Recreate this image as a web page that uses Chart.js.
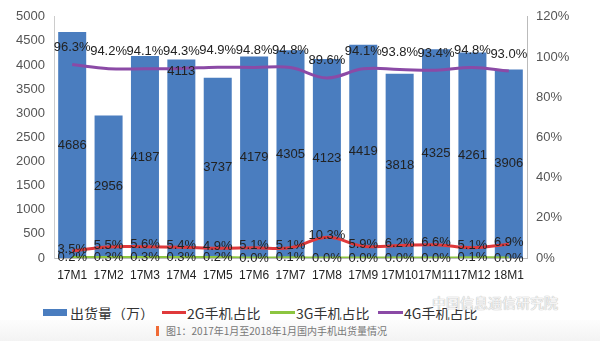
<!DOCTYPE html>
<html>
<head>
<meta charset="utf-8">
<script src="https://cdn.jsdelivr.net/npm/chart.js@4/dist/chart.umd.min.js"></script>
<style>
  body { margin: 0; width: 600px; height: 341px; background: #fff; position: relative; overflow: hidden;
         font-family: "Noto Sans CJK SC", "Liberation Sans", sans-serif; }
  #wrap { position: absolute; left: 0; top: 0; width: 600px; height: 290px; }
  .lg { position: absolute; top: 303px; font-size: 14px; color: #333; line-height: 20px; white-space: nowrap; }
  .sw { position: absolute; }
  #band { position: absolute; left: 0; top: 320px; width: 600px; height: 21px; background: linear-gradient(#fdfdfd, #f3f3f3); }
  #cap { position: absolute; left: 166px; top: 324px; font-size: 10px; color: #777; line-height: 14px; }
  #capbar { position: absolute; left: 156px; top: 326px; width: 3px; height: 10px; background: #f06a35; }
  #wm { position: absolute; left: 432px; top: 293px; font-size: 14px; color: #f4f4f4; line-height: 18px;
        text-shadow: 0 0 1px #bbb, 0 0 1px #bbb; white-space: nowrap; }
</style>
</head>
<body>
<div id="wrap"><canvas id="c" width="600" height="290"></canvas></div>
<div class="sw" style="left:43px;top:309px;width:24px;height:7px;background:#4a7dbf"></div>
<div class="lg" style="left:70px">出货量（万）</div>
<div class="sw" style="left:162px;top:311px;width:24px;height:3px;background:#e0393b"></div>
<div class="lg" style="left:187px">2G手机占比</div>
<div class="sw" style="left:270px;top:311px;width:25px;height:3px;background:#8cc540"></div>
<div class="lg" style="left:296px">3G手机占比</div>
<div class="sw" style="left:378px;top:311px;width:25px;height:3px;background:#8b4aa6"></div>
<div class="lg" style="left:404px">4G手机占比</div>
<div id="wm">中国信息通信研究院</div>
<div id="band"></div>
<div id="capbar"></div>
<div id="cap">图1：2017年1月至2018年1月国内手机出货量情况</div>
<script>
const months = ['17M1','17M2','17M3','17M4','17M5','17M6','17M7','17M8','17M9','17M10','17M11','17M12','18M1'];
const shipments = [4686, 2956, 4187, 4113, 3737, 4179, 4305, 4123, 4419, 3818, 4325, 4261, 3906];
const share2G = [3.5, 5.5, 5.6, 5.4, 4.9, 5.1, 5.1, 10.3, 5.9, 6.2, 6.6, 5.1, 6.9];
const share3G = [0.2, 0.3, 0.3, 0.3, 0.2, 0.0, 0.1, 0.0, 0.0, 0.0, 0.0, 0.1, 0.0];
const share4G = [96.3, 94.2, 94.1, 94.3, 94.9, 94.8, 94.8, 89.6, 94.1, 93.8, 93.4, 94.8, 93.0];

// draws the value labels like the excel original
const labels = {
  id: 'labels',
  afterDatasetsDraw(chart) {
    const ctx = chart.ctx;
    ctx.save();
    ctx.font = '13px "Liberation Sans", sans-serif';
    ctx.fillStyle = '#222';
    ctx.textAlign = 'center';
    ctx.textBaseline = 'middle';
    chart.data.datasets.forEach((ds, i) => {
      const meta = chart.getDatasetMeta(i);
      meta.data.forEach((el, j) => {
        const v = ds.data[j];
        if (ds.type === 'bar') {
          let y = (el.y + el.base) / 2;
          if (j === 3) y = el.y + 12;
          ctx.fillText(v, el.x, y);
        } else {
          let y = el.y;
          if (i === 3) y -= 17;
          else if (i === 1) y -= 2;
          ctx.fillText(v.toFixed(1) + '%', el.x, y);
        }
      });
    });
    ctx.restore();
  }
};

const tickFont = { family: '"Liberation Sans", sans-serif', size: 13 };

new Chart(document.getElementById('c'), {
  data: {
    labels: months,
    datasets: [
      { type: 'bar', label: '出货量（万）', data: shipments, backgroundColor: '#4a7dbf',
        barPercentage: 0.77, categoryPercentage: 1, yAxisID: 'y', order: 5 },
      { type: 'line', label: '2G手机占比', data: share2G, borderColor: '#e0393b', borderWidth: 3,
        pointRadius: 0, tension: 0.4, yAxisID: 'y1', order: 1 },
      { type: 'line', label: '3G手机占比', data: share3G, borderColor: '#8cc540', borderWidth: 3,
        pointRadius: 0, tension: 0.4, yAxisID: 'y1', order: 2 },
      { type: 'line', label: '4G手机占比', data: share4G, borderColor: '#8b4aa6', borderWidth: 3,
        pointRadius: 0, tension: 0.4, yAxisID: 'y1', order: 3 }
    ]
  },
  options: {
    responsive: false,
    animation: false,
    layout: { padding: { top: 15, left: 0, right: 0 } },
    plugins: { legend: { display: false }, tooltip: { enabled: false } },
    scales: {
      x: {
        grid: { display: false, drawTicks: false },
        border: { color: '#bbb' },
        ticks: { color: '#222', font: { family: '"Liberation Sans", sans-serif', size: 12 }, padding: 10, maxRotation: 0, autoSkip: false },
        afterFit(s) { s.height = 32; }
      },
      y: {
        position: 'left', min: 0, max: 5000,
        grid: { display: false, drawTicks: false },
        border: { color: '#ccc' },
        ticks: { stepSize: 500, color: '#555', font: tickFont, padding: 9, callback: v => String(v) },
        afterFit(s) { s.width = 54; }
      },
      y1: {
        position: 'right', min: 0, max: 120,
        grid: { display: false, drawOnChartArea: false, drawTicks: true, tickLength: 5, tickColor: '#bbb' },
        border: { color: '#bbb' },
        ticks: { stepSize: 20, color: '#555', font: tickFont, padding: 4, callback: v => v + '%' },
        afterFit(s) { s.width = 73; }
      }
    }
  },
  plugins: [labels]
});
</script>
</body>
</html>
